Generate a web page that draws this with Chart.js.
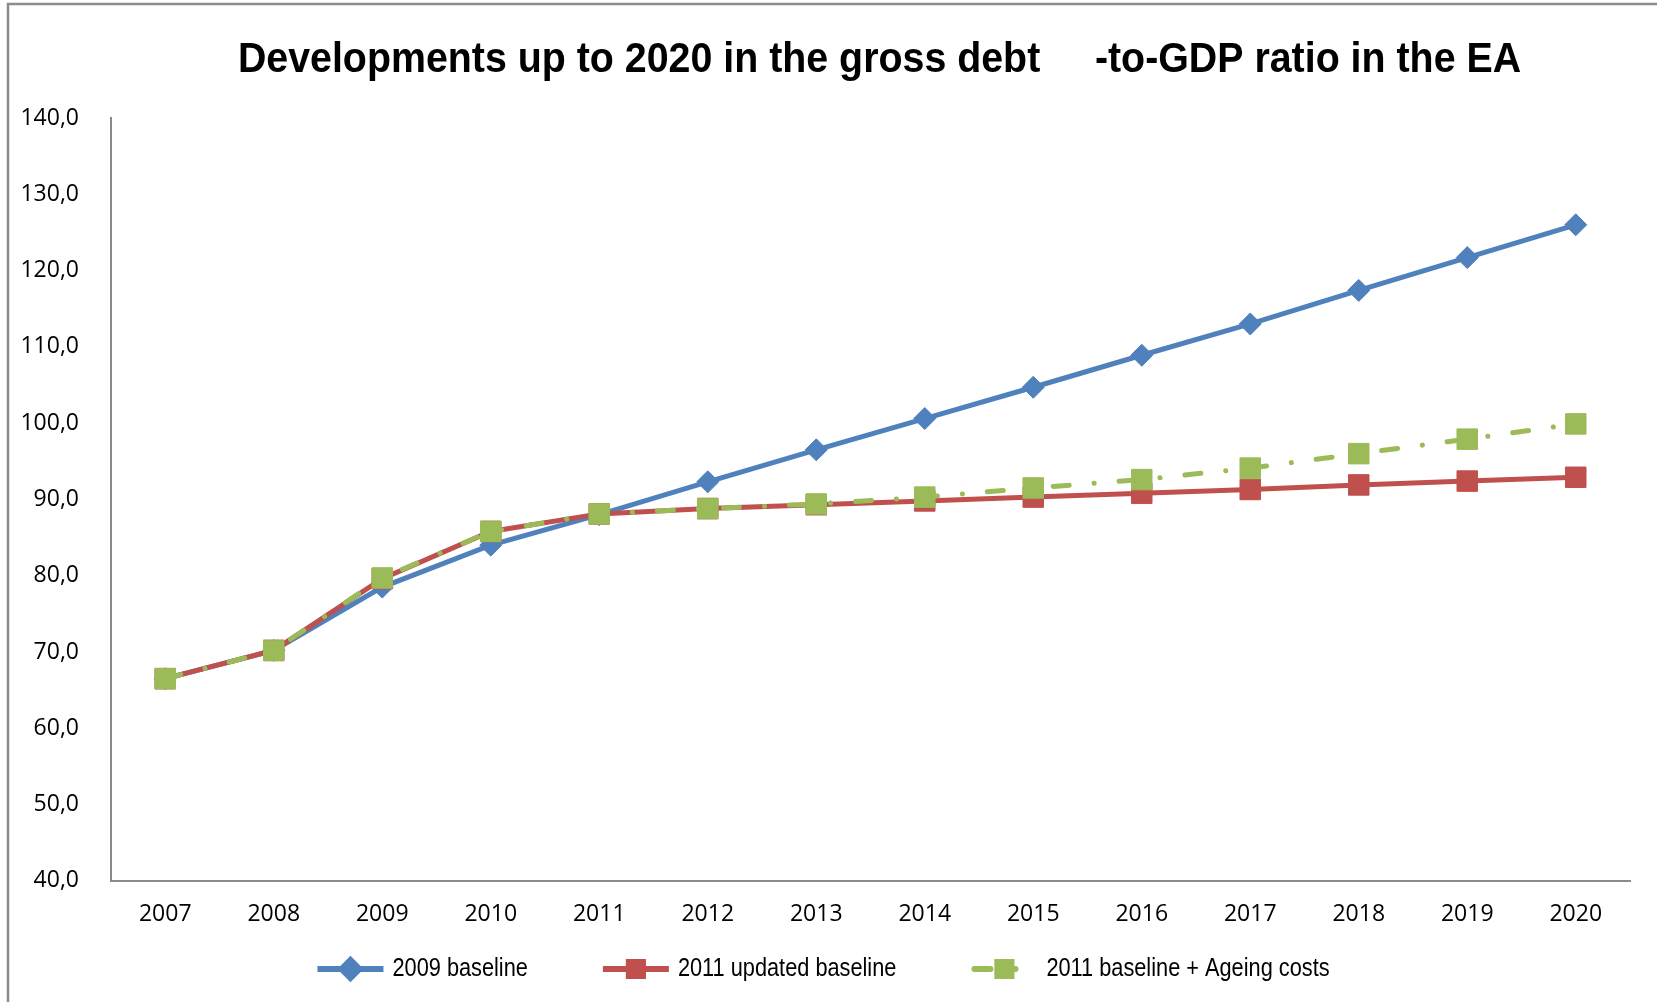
<!DOCTYPE html>
<html>
<head>
<meta charset="utf-8">
<title>Gross debt-to-GDP ratio in the EA</title>
<script src="https://cdn.jsdelivr.net/npm/chart.js@4.4.1/dist/chart.umd.min.js"></script>
<style>
  html, body { margin: 0; padding: 0; background: #ffffff; }
  #wrap { position: relative; width: 1657px; height: 1002px; }
</style>
</head>
<body>
<div id="wrap"><canvas id="chart" width="1657" height="1002"></canvas></div>
<script>
// Years on the horizontal axis
const years = ['2007', '2008', '2009', '2010', '2011', '2012', '2013', '2014', '2015', '2016', '2017', '2018', '2019', '2020'];

// Gross debt-to-GDP ratio, % of GDP
const baseline2009 = [66.5, 70.2, 78.5, 84.0, 88.0, 92.3, 96.5, 100.6, 104.7, 108.9, 113.0, 117.4, 121.7, 126.0];
const updated2011  = [66.5, 70.2, 79.6, 85.8, 88.1, 88.8, 89.3, 89.8, 90.3, 90.8, 91.3, 91.9, 92.4, 92.9];
const ageing2011   = [66.5, 70.2, 79.7, 85.8, 88.1, 88.8, 89.4, 90.3, 91.5, 92.6, 94.1, 96.0, 97.9, 99.9];

const seriesNames = ['2009 baseline', '2011 updated baseline', '2011 baseline + Ageing costs'];

// Value axis range
const yMin = 40;
const yMax = 140;
const yStep = 10;

const titleText = 'Developments up to 2020 in the gross debt     -to-GDP ratio in the EA';

const SANS = '"Liberation Sans", Arial, sans-serif';
const TICK_FONT = '"Open Sans", "DejaVu Sans", sans-serif';

const BLUE = '#4F81BD';
const RED = '#C0504D';
const GREEN = '#9BBB59';
const GREEN_DASH = [16, 25, 0.1, 25];

// Draws text squeezed horizontally to give a narrow face
function narrowText(ctx, text, x, y, squeeze, align) {
  ctx.save();
  ctx.translate(x, y);
  ctx.scale(squeeze, 1);
  ctx.textAlign = align;
  ctx.fillText(text, 0, 0);
  ctx.restore();
}

// White page with the grey outer frame
const framePlugin = {
  id: 'frame',
  beforeDraw(chart) {
    const ctx = chart.ctx;
    ctx.save();
    ctx.fillStyle = '#ffffff';
    ctx.fillRect(0, 0, chart.width, chart.height);
    ctx.strokeStyle = '#8c8c8c';
    ctx.lineWidth = 2.5;
    ctx.strokeRect(8, 4, chart.width + 20, chart.height + 20);
    ctx.restore();
  }
};

// Chart heading in a condensed bold face, centred over the plot
const headingPlugin = {
  id: 'heading',
  afterDraw(chart) {
    const ctx = chart.ctx;
    const area = chart.chartArea;
    ctx.save();
    ctx.fillStyle = '#000000';
    ctx.font = 'bold 43px ' + SANS;
    ctx.textBaseline = 'alphabetic';
    narrowText(ctx, titleText, (area.left + area.right) / 2 + 9, 72, 0.915, 'center');
    ctx.restore();
  }
};

// Legend with a line sample and marker for each series, laid out in one row
const lineLegendPlugin = {
  id: 'lineLegend',
  afterDraw(chart) {
    const ctx = chart.ctx;
    const datasets = chart.data.datasets;
    const segLen = 66, textGap = 9, itemGap = 75, y = 969, squeeze = 0.87;
    ctx.save();
    ctx.font = '25px ' + SANS;
    ctx.textBaseline = 'middle';
    const widths = datasets.map(ds => ctx.measureText(ds.label).width * squeeze);
    const total = widths.reduce((s, w) => s + segLen + textGap + w, 0) + itemGap * (datasets.length - 1);
    let x = chart.width / 2 - 5 - total / 2;
    datasets.forEach((ds, i) => {
      ctx.save();
      ctx.strokeStyle = ds.borderColor;
      ctx.lineWidth = 6;
      ctx.lineCap = ds.borderDash ? 'round' : 'butt';
      ctx.setLineDash(ds.borderDash || []);
      ctx.beginPath();
      ctx.moveTo(x + (ds.borderDash ? 3 : 0), y);
      ctx.lineTo(x + segLen, y);
      ctx.stroke();
      ctx.setLineDash([]);
      ctx.fillStyle = ds.borderColor;
      ctx.strokeStyle = ds.borderColor;
      Chart.helpers.drawPoint(ctx, {
        pointStyle: ds.pointStyle,
        radius: ds.pointStyle === 'rectRot' ? 9 : 10,
        rotation: 0,
        borderWidth: 1
      }, x + segLen / 2, y);
      ctx.restore();
      ctx.fillStyle = '#000000';
      narrowText(ctx, ds.label, x + segLen + textGap, y, squeeze, 'left');
      x += segLen + textGap + widths[i] + itemGap;
    });
    ctx.restore();
  }
};

function draw() {
  const ctx = document.getElementById('chart').getContext('2d');
  new Chart(ctx, {
    type: 'line',
    data: {
      labels: years,
      datasets: [
        {
          label: seriesNames[0],
          data: baseline2009,
          borderColor: BLUE,
          backgroundColor: BLUE,
          borderWidth: 5,
          pointStyle: 'rectRot',
          pointRadius: 11,
          pointBorderWidth: 1,
          pointBorderColor: BLUE,
          pointBackgroundColor: BLUE,
          tension: 0,
          order: 2
        },
        {
          label: seriesNames[1],
          data: updated2011,
          borderColor: RED,
          backgroundColor: RED,
          borderWidth: 5,
          pointStyle: 'rect',
          pointRadius: 14.5,
          pointBorderWidth: 1,
          pointBorderColor: RED,
          pointBackgroundColor: RED,
          tension: 0,
          order: 1
        },
        {
          label: seriesNames[2],
          data: ageing2011,
          borderColor: GREEN,
          backgroundColor: GREEN,
          borderWidth: 5,
          borderDash: GREEN_DASH,
          borderCapStyle: 'round',
          pointStyle: 'rect',
          pointRadius: 14.5,
          pointBorderWidth: 1,
          pointBorderColor: GREEN,
          pointBackgroundColor: GREEN,
          tension: 0,
          order: 0
        }
      ]
    },
    options: {
      responsive: false,
      animation: false,
      devicePixelRatio: 1,
      layout: { padding: { left: 0, right: 27, top: 118, bottom: 53.6 } },
      plugins: {
        legend: { display: false },
        tooltip: { enabled: false },
        title: { display: false }
      },
      scales: {
        x: {
          type: 'category',
          offset: true,
          grid: { display: false, drawTicks: false, tickLength: 0 },
          border: { display: true, color: '#8a8a8a', width: 2 },
          ticks: {
            color: '#000000',
            font: { family: TICK_FONT, size: 23 },
            padding: 20,
            maxRotation: 0,
            autoSkip: false
          }
        },
        y: {
          min: yMin,
          max: yMax,
          grid: { display: false, drawTicks: false, tickLength: 0 },
          border: { display: true, color: '#8a8a8a', width: 2 },
          ticks: {
            stepSize: yStep,
            color: '#000000',
            font: { family: TICK_FONT, size: 23 },
            padding: 32,
            callback: v => Number(v).toFixed(1).replace('.', ',')
          },
          afterFit(scale) { scale.width = 111; }
        }
      }
    },
    plugins: [framePlugin, headingPlugin, lineLegendPlugin]
  });
}

document.fonts.load('23px "Open Sans"').catch(() => null).then(draw, draw);
</script>
</body>
</html>
